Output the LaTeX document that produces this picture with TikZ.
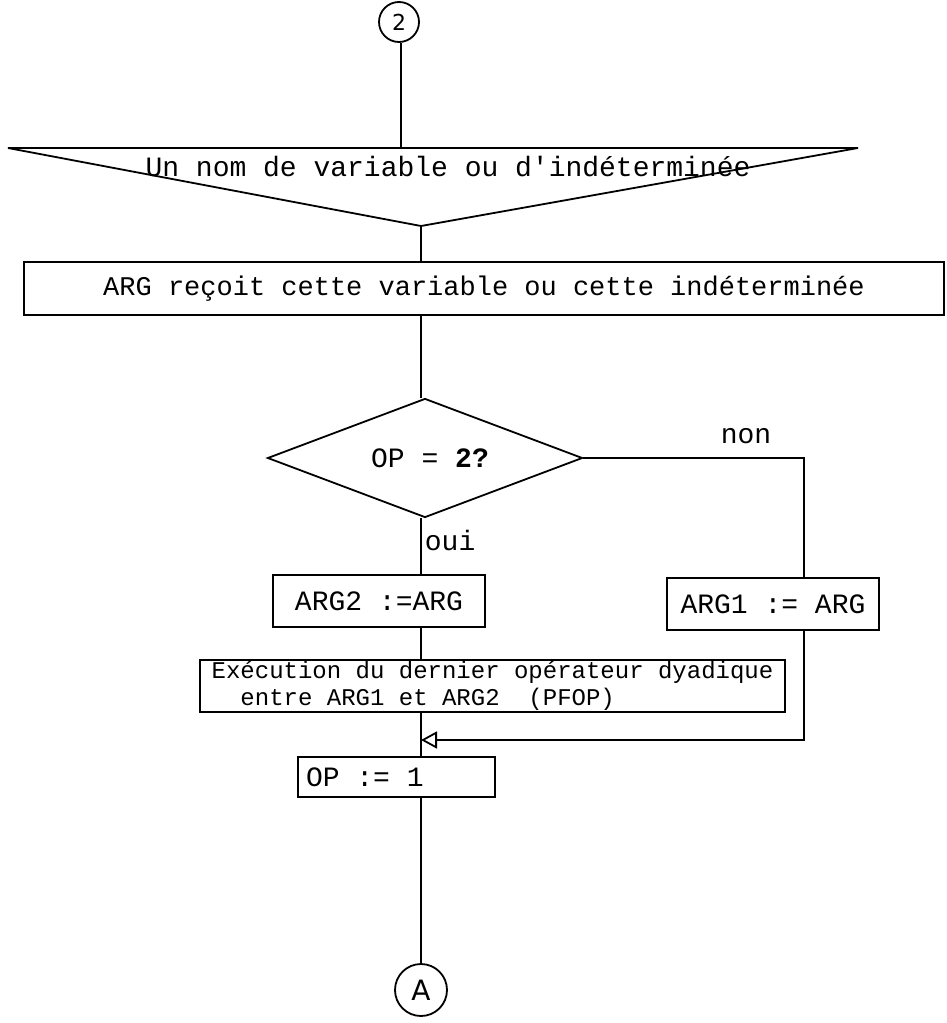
\documentclass[tikz,border=0pt]{standalone}
\usepackage{fontspec}
\setmainfont{Liberation Mono}
\newfontfamily\handfont{DejaVu Sans}
\usetikzlibrary{arrows.meta,shapes.geometric}
\begin{document}
\begin{tikzpicture}[x=1pt,y=-1pt,
  line width=1.8pt,
  txt/.style={font=\fontsize{27}{31}\selectfont},
  bigtxt/.style={font=\fontsize{28}{32}\selectfont},
  smalltxt/.style={font=\fontsize{24}{27}\selectfont},
  procbox/.style={draw,rectangle,inner sep=0pt},
  conn/.style={draw,circle,inner sep=0pt,line width=1.8pt}]
\useasboundingbox (0,0) rectangle (947,1023);

% connector 2
\node[conn,minimum size=40pt,font=\handfont\fontsize{22}{26}\selectfont] (c2) at (399,22) {2};

% input triangle
\coordinate (tl) at (8,148);
\coordinate (tr) at (858,148);
\coordinate (tb) at (421,226);
\coordinate (trin) at (401,148);
\draw (tl) -- (tr) -- (tb) -- cycle;
\node[bigtxt] (tritext) at (448,167) {Un nom de variable ou d\textquotesingle indéterminée};

% assignment of ARG
\node[procbox,txt,minimum width=920pt,minimum height=53pt] (arg) at (484,288.5)
  {ARG reçoit cette variable ou cette indéterminée};

% test
\node[draw,diamond,inner sep=0pt,minimum width=315pt,minimum height=119pt] (dia) at (425,458) {};
\node[bigtxt] (diatext) at (430,458) {OP = \textbf{2?}};

% branches
\node[procbox,bigtxt,minimum width=212pt,minimum height=52pt] (arg2) at (379,601) {ARG2 :=ARG};
\node[procbox,bigtxt,minimum width=212pt,minimum height=52pt] (arg1) at (773,604) {ARG1 := ARG};
\coordinate (rx) at (804,604);

% dyadic operator
\node[procbox,smalltxt,minimum width=585pt,minimum height=52pt,align=left] (exec) at (492.5,686)
  {Exécution du dernier opérateur dyadique\\\ \ entre ARG1 et ARG2\ \ (PFOP)};

\coordinate (jn) at (421,740);

% reset OP
\node[procbox,bigtxt,minimum width=197pt,minimum height=40pt] (op) at (396.5,777)
  {\makebox[181pt][l]{OP := 1}};

% connector A
\node[conn,minimum size=52pt,font=\handfont\fontsize{28}{32}\selectfont] (cA) at (421,990) {A};

% flow lines
\draw (c2.south -| trin) -- (trin);
\draw (tb) -- (tb |- arg.north);
\draw (arg.south -| tb) -- (dia.north -| tb);
\draw (dia.east) -- (rx |- dia.east) -- (rx |- arg1.north);
\node[bigtxt] (nonlbl) at (746,436) {non};
\draw (dia.south -| tb) -- (tb |- arg2.north);
\node[bigtxt,anchor=west,inner sep=1pt] (ouilbl) at (423,540) {oui};
\draw (arg2.south -| jn) -- (exec.north -| jn);
\draw[-{Triangle[open,length=16pt,width=17pt]}] (rx |- arg1.south) |- (jn);
\draw (exec.south -| jn) -- (op.north -| jn);
\draw (op.south -| jn) -- (cA.north);
\end{tikzpicture}
\end{document}
